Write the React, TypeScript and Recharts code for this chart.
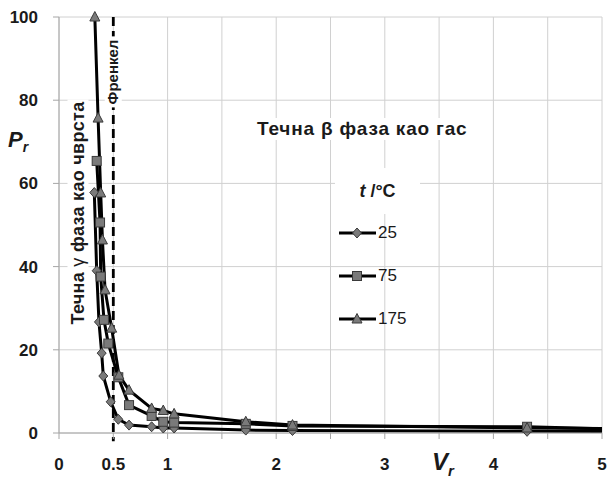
import { LineChart, Line, XAxis, YAxis, CartesianGrid, ReferenceLine } from 'recharts'

// V_r values shared by the three isotherms after the steep part
const vr25 = [0.325, 0.347, 0.368, 0.393, 0.408, 0.476, 0.546, 0.645, 0.853, 0.96, 1.06, 1.72, 2.15, 4.31, 5];
const pr25 = [57.8, 39, 26.7, 19.2, 13.7, 7.5, 3.3, 1.9, 1.5, 1.2, 1.2, 0.7, 0.6, 0.4, 0.35];

const vr75 = [0.347, 0.378, 0.384, 0.414, 0.454, 0.546, 0.645, 0.853, 0.96, 1.06, 1.72, 2.15, 4.31, 5];
const pr75 = [65.4, 50.6, 37.6, 27.2, 21.5, 13.4, 6.7, 4.1, 2.7, 2.5, 2.2, 1.7, 1.5, 1.0];

const vr175 = [0.33, 0.36, 0.384, 0.4, 0.424, 0.485, 0.552, 0.645, 0.853, 0.96, 1.06, 1.72, 2.15, 4.31, 5];
const pr175 = [100, 75.7, 57.7, 46.4, 34.4, 25.2, 13.9, 10.3, 5.9, 5.4, 4.6, 2.7, 1.9, 1.2, 1.1];

const temps = ['25', '75', '175'];
const xTicks = [0, 0.5, 1, 1.5, 2, 2.5, 3, 3.5, 4, 4.5, 5];
const xLabels = [0, 0.5, 1, 2, 3, 4, 5];
const yTicks = [0, 20, 40, 60, 80, 100];

const toRows = (vs: number[], ps: number[]) => vs.map((v, i) => ({ v, p: ps[i] }));
const s25 = toRows(vr25, pr25);
const s75 = toRows(vr75, pr75);
const s175 = toRows(vr175, pr175);

const FONT = '"Liberation Sans", Arial, sans-serif';
const FILL = '#7a7a7a';
const EDGE = '#3a3a3a';

const Marker = ({ kind, cx, cy }: { kind: string; cx: number; cy: number }) => {
  if (kind === 'diamond')
    return <polygon points={`${cx},${cy - 5} ${cx + 4.5},${cy} ${cx},${cy + 5} ${cx - 4.5},${cy}`} fill={FILL} stroke={EDGE} strokeWidth={1} />
  if (kind === 'square')
    return <rect x={cx - 4.5} y={cy - 4.5} width={9} height={9} fill={FILL} stroke={EDGE} strokeWidth={1} />
  return <polygon points={`${cx},${cy - 5.5} ${cx + 5},${cy + 4} ${cx - 5},${cy + 4}`} fill={FILL} stroke={EDGE} strokeWidth={1} />
}

// last point sits on the axis end only to carry the line, no marker there
const dotFor = (kind: string) => (props: any) => {
  const { cx, cy, index, payload } = props
  if (payload.v >= 5 || cx == null) return <g key={`d-${kind}-${index}`} />
  return <g key={`d-${kind}-${index}`}><Marker kind={kind} cx={cx} cy={cy} /></g>
}

const kinds = ['diamond', 'square', 'triangle']

const TempLegend = () => (
  <div style={{ position: 'absolute', left: 335, top: 168, width: 90, fontFamily: FONT, color: '#1a1a1a' }}>
    <div style={{ background: '#fff', width: 85, height: 46, display: 'flex', alignItems: 'center', justifyContent: 'center', fontSize: 18, fontWeight: 'bold' }}>
      <span><i>t</i>&nbsp;/°C</span>
    </div>
    {temps.map((t, i) => (
      <div key={t} style={{ display: 'flex', alignItems: 'center', height: 43, marginTop: i === 0 ? -3 : 0 }}>
        <svg width={42} height={14} style={{ marginLeft: 3 }}>
          <line x1={1} y1={7} x2={38} y2={7} stroke="#000" strokeWidth={3} />
          <Marker kind={kinds[i]} cx={19} cy={7} />
        </svg>
        <span style={{ fontSize: 17, marginLeft: -2 }}>{t}</span>
      </div>
    ))}
  </div>
)

const App = () => {
  return (
    <div style={{ position: 'absolute', left: 0, top: 0, width: 608, height: 479, background: '#fff', fontFamily: FONT }}>
      <LineChart width={608} height={479} margin={{ top: 17, right: 6, left: 0, bottom: 0 }}>
        <CartesianGrid stroke="#d0d0d0" strokeWidth={1} />
        <XAxis
          type="number"
          dataKey="v"
          domain={[0, 5]}
          ticks={xTicks}
          tickFormatter={(v: number) => (xLabels.includes(v) ? String(v) : '')}
          height={46}
          tickSize={6}
          tickMargin={19}
          stroke="#a6a6a6"
          tick={{ fill: '#1a1a1a', fontSize: 17, fontWeight: 'bold', fontFamily: FONT }}
          interval={0}
        />
        <YAxis
          type="number"
          domain={[0, 100]}
          ticks={yTicks}
          width={59}
          tickSize={6}
          tickMargin={15}
          stroke="#a6a6a6"
          tick={{ fill: '#1a1a1a', fontSize: 17, fontWeight: 'bold', fontFamily: FONT }}
        />
        <ReferenceLine
          segment={[{ x: 0.5, y: 100 }, { x: 0.5, y: -2 }]}
          stroke="#000"
          strokeWidth={2.8}
          strokeDasharray="9 5"
          ifOverflow="visible"
        />
        <Line data={s25} dataKey="p" name="25" type="linear" stroke="#000" strokeWidth={3} dot={dotFor('diamond')} activeDot={false} isAnimationActive={false} />
        <Line data={s75} dataKey="p" name="75" type="linear" stroke="#000" strokeWidth={3} dot={dotFor('square')} activeDot={false} isAnimationActive={false} />
        <Line data={s175} dataKey="p" name="175" type="linear" stroke="#000" strokeWidth={3} dot={dotFor('triangle')} activeDot={false} isAnimationActive={false} />
      </LineChart>

      <TempLegend />

      {/* axis titles */}
      <div style={{ position: 'absolute', left: 8, top: 129, fontSize: 22, fontWeight: 'bold', fontStyle: 'italic', color: '#1a1a1a', lineHeight: 1 }}>
        P<sub style={{ fontSize: 14 }}>r</sub>
      </div>
      <div style={{ position: 'absolute', left: 432, top: 450, fontSize: 24, fontWeight: 'bold', fontStyle: 'italic', color: '#1a1a1a', lineHeight: 1 }}>
        V<sub style={{ fontSize: 15 }}>r</sub>
      </div>

      {/* annotations */}
      <div style={{ position: 'absolute', left: 78, top: 213, transform: 'translate(-50%, -50%) rotate(-90deg)', whiteSpace: 'nowrap', background: '#fff', fontSize: 18, fontWeight: 'bold', color: '#1a1a1a', padding: '0 2px', letterSpacing: 0.3 }}>
        Течна <span style={{ fontWeight: 'normal' }}>γ</span> фаза као чврста
      </div>
      <div style={{ position: 'absolute', left: 113, top: 72, transform: 'translate(-50%, -50%) rotate(-90deg)', whiteSpace: 'nowrap', background: '#fff', fontSize: 15, fontWeight: 'bold', color: '#1a1a1a', padding: '0 3px', lineHeight: 1.1 }}>
        Френкел
      </div>
      <div style={{ position: 'absolute', left: 255, top: 118, whiteSpace: 'nowrap', background: '#fff', fontSize: 19, fontWeight: 'bold', color: '#1a1a1a', padding: '0 2px', letterSpacing: 0.8 }}>
        Течна β фаза као гас
      </div>
    </div>
  )
}

export default App
